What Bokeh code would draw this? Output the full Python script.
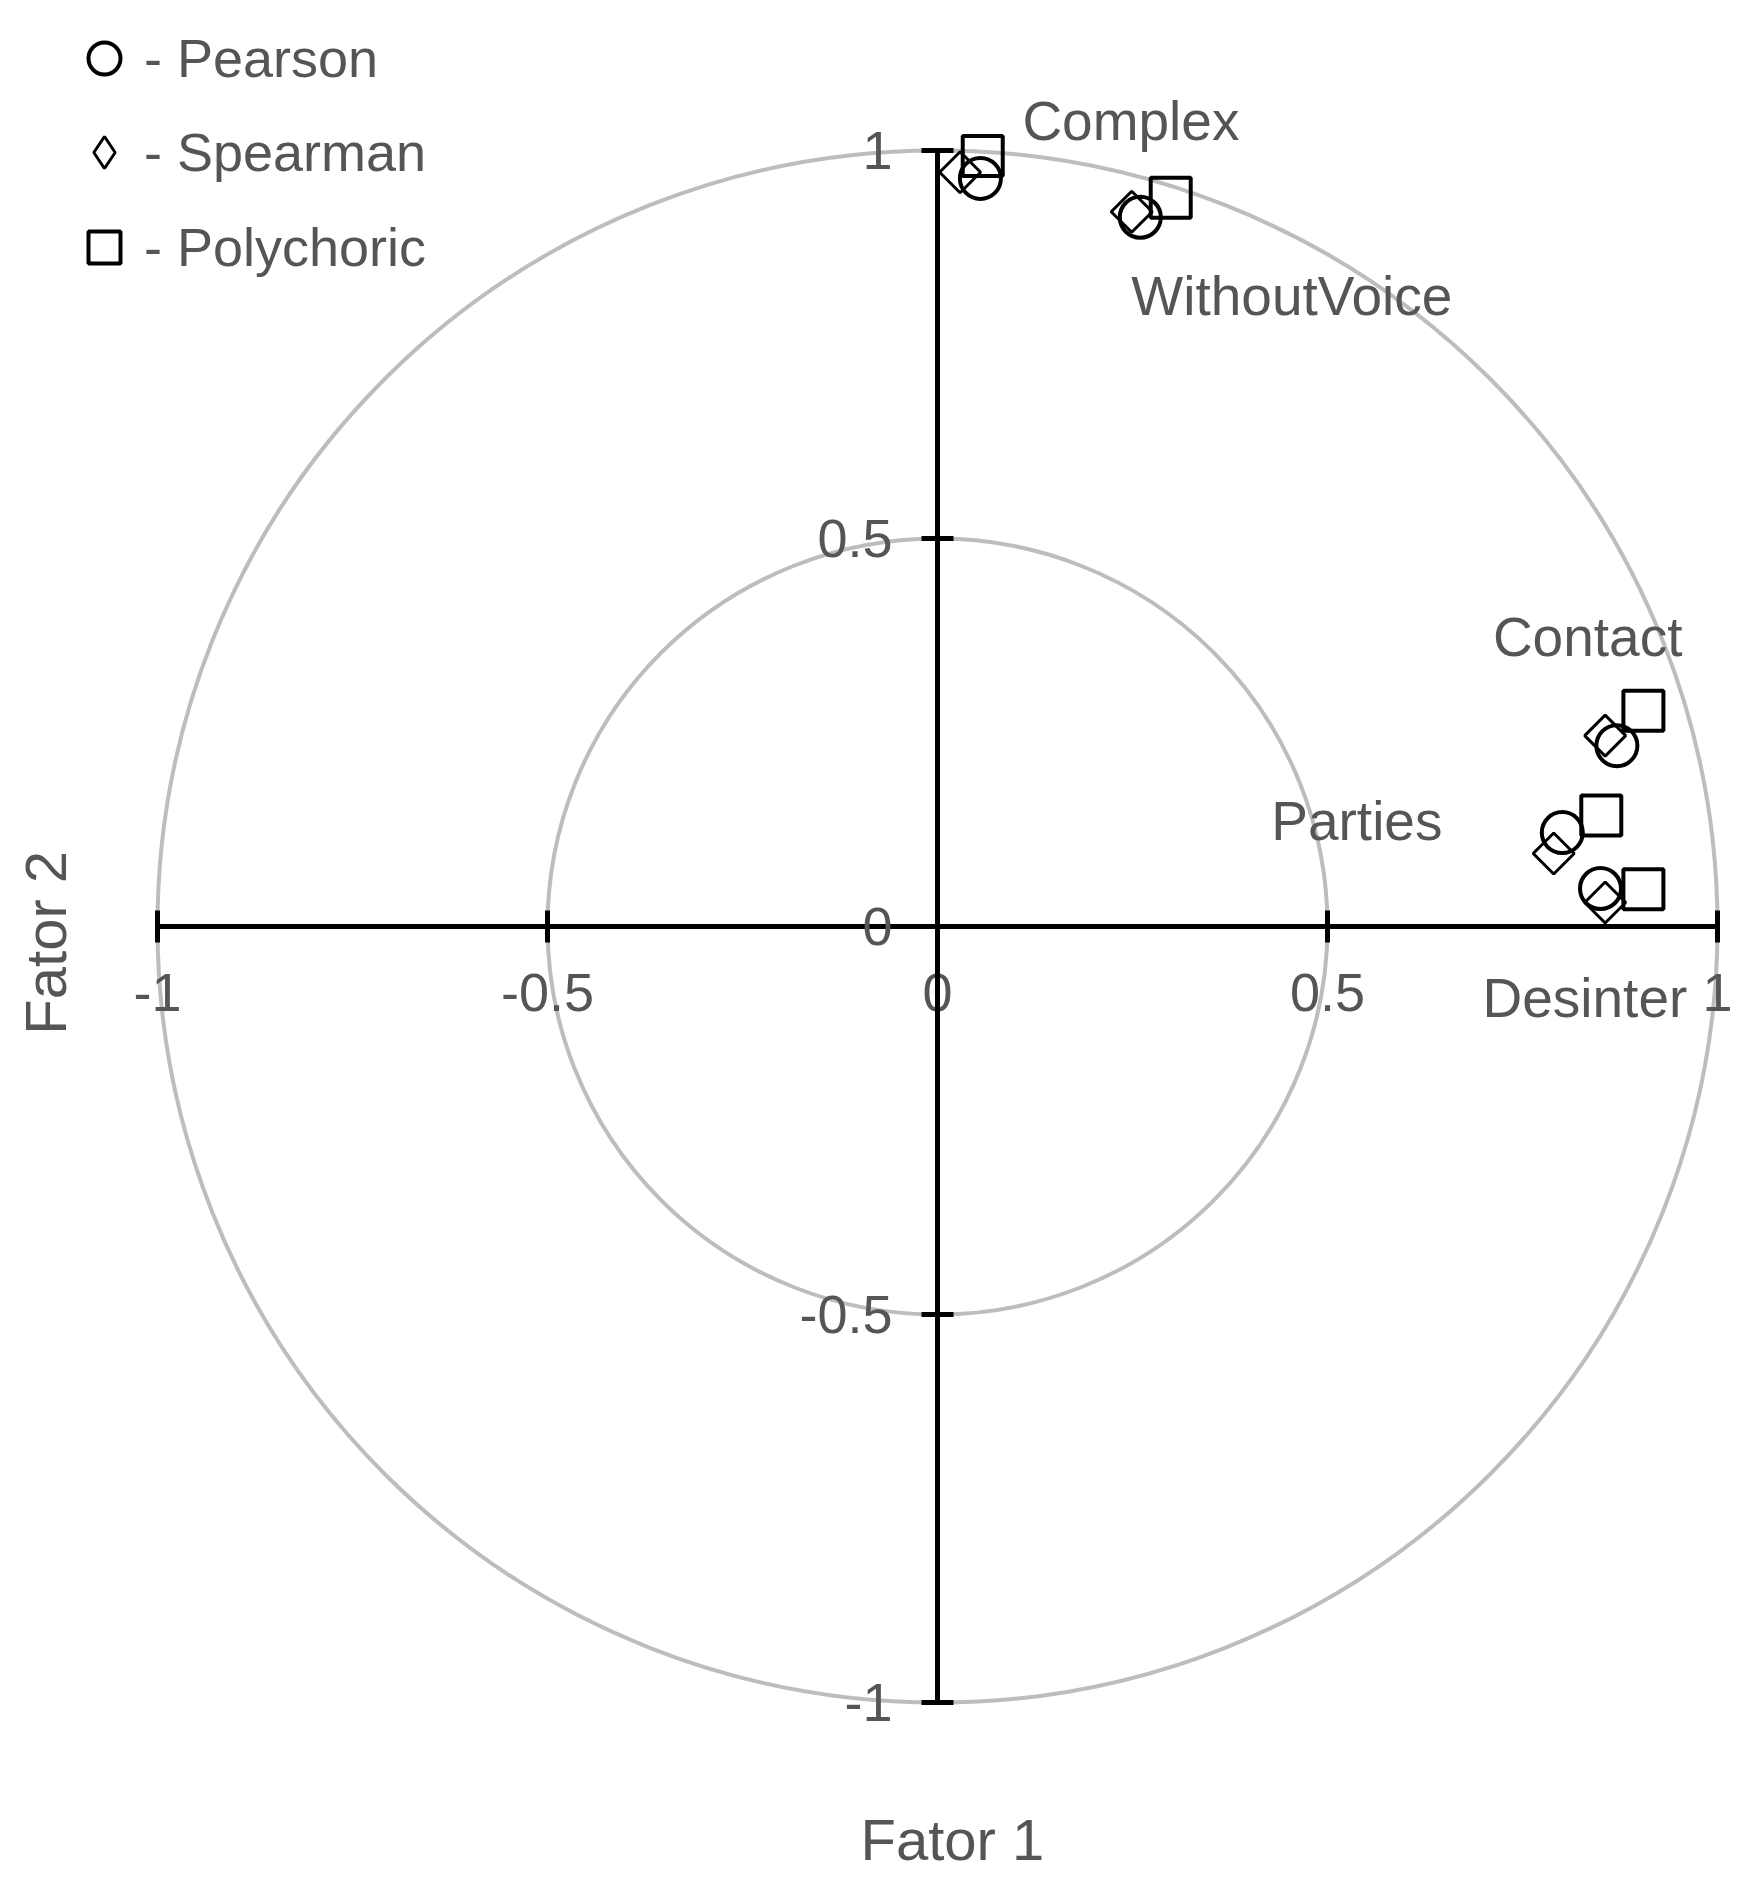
import math
from bokeh.plotting import figure
from bokeh.models import (Range1d, FixedTicker, Legend, LegendItem, Label,
                          ColumnDataSource)
from bokeh.core.properties import value
from bokeh.embed import file_html
from bokeh.resources import INLINE

# ---------------- data ----------------
categories = ["Complex", "WithoutVoice", "Contact", "Parties", "Desinter"]

pearson_f1 = [0.055, 0.260, 0.871, 0.801, 0.850]
pearson_f2 = [0.964, 0.914, 0.233, 0.121, 0.049]

spearman_f1 = [0.029, 0.249, 0.856, 0.790, 0.856]
spearman_f2 = [0.972, 0.921, 0.246, 0.094, 0.031]

polychoric_f1 = [0.058, 0.299, 0.905, 0.851, 0.905]
polychoric_f2 = [0.993, 0.939, 0.278, 0.143, 0.048]

series_names = ["- Pearson", "- Spearman", "- Polychoric"]

tick_values = [-1, -0.5, 0, 0.5, 1]
tick_labels = ["-1", "-0.5", "0", "0.5", "1"]

circle_radii = [1.0, 0.5]

# label offsets (screen px) from each Pearson point to its text
label_dx = [42, -9, -124, -291, -118]
label_dy = [-57, 79, -109, -12, 110]

# ---------------- style ----------------
FONT = "Liberation Sans"
TEXT = "#555555"
W, H = 1738, 1878
CX, CY = 937, 926      # px of origin
SX, SY = 780, 776      # px per unit

p = figure(width=W, height=H, output_backend="svg", toolbar_location=None,
           x_range=Range1d(-CX / SX, (W - CX) / SX),
           y_range=Range1d((CY - H) / SY, CY / SY),
           min_border=0, background_fill_color="white",
           border_fill_color="white")
p.grid.visible = False
p.outline_line_color = None

for ax, standoff in ((p.xaxis, 31), (p.yaxis, 29)):
    ax.fixed_location = 0
    ax.bounds = (-1, 1)
    ax.ticker = FixedTicker(ticks=tick_values)
    ax.major_label_overrides = {v: s for v, s in zip(tick_values, tick_labels)}
    ax.axis_line_color = "black"
    ax.axis_line_width = 5
    ax.major_tick_line_color = "black"
    ax.major_tick_line_width = 5
    ax.major_tick_in = 16
    ax.major_tick_out = 16
    ax.minor_tick_line_color = None
    ax.major_label_text_font = FONT
    ax.major_label_text_font_size = "54px"
    ax.major_label_text_color = TEXT
    ax.major_label_standoff = standoff

ring_src = ColumnDataSource(dict(x=[0.0] * len(circle_radii),
                                 y=[0.0] * len(circle_radii),
                                 w=[2 * r for r in circle_radii],
                                 h=[2 * r for r in circle_radii]))
p.ellipse(x="x", y="y", width="w", height="h", source=ring_src,
          fill_color=None, line_color="#bdbdbd", line_width=4)

r_pol = p.scatter(polychoric_f1, polychoric_f2, marker="square", size=40,
                  fill_color=None, line_color="black", line_width=4)
r_pea = p.scatter(pearson_f1, pearson_f2, marker="circle", size=41,
                  fill_color=None, line_color="black", line_width=4)
r_spe = p.scatter(spearman_f1, spearman_f2, marker="square", size=29,
                  angle=math.pi / 4, fill_color=None, line_color="black",
                  line_width=3)
# hidden twin used only as the legend key (legend ignores marker angle)
r_spe_key = p.scatter(spearman_f1, spearman_f2, marker="diamond", size=30,
                      fill_color=None, line_color="black", line_width=3,
                      visible=False)

p.text(x=pearson_f1, y=pearson_f2, text=categories,
       x_offset=label_dx, y_offset=label_dy,
       text_font=value(FONT), text_font_size="55px", text_color=TEXT,
       text_align="left", text_baseline="alphabetic")

G = 80
def add_legend(renderer, label, center_y):
    top = center_y - G / 2
    leg = Legend(items=[LegendItem(label=label, renderers=[renderer])],
                 location=(64, H - (top + G)), glyph_width=G, glyph_height=G,
                 label_height=G, label_standoff=0, padding=0, margin=0,
                 spacing=0, border_line_color=None, background_fill_alpha=0,
                 inactive_fill_alpha=0, click_policy="none",
                 label_text_font=FONT, label_text_font_size="54px",
                 label_text_color=TEXT)
    p.add_layout(leg)

add_legend(r_pea, series_names[0], 58)
add_legend(r_spe_key, series_names[1], 152)
add_legend(r_pol, series_names[2], 247)

p.add_layout(Label(x=0.019, y=-1.1765, text="Fator 1", text_align="center",
                   text_baseline="alphabetic", text_font=FONT,
                   text_font_size="58px", text_color=TEXT))
p.add_layout(Label(x=-1.144, y=-0.021, text="Fator 2", angle=math.pi / 2,
                   text_align="center", text_baseline="alphabetic",
                   text_font=FONT, text_font_size="58px", text_color=TEXT))

open("out.html", "w").write(file_html(p, INLINE))
